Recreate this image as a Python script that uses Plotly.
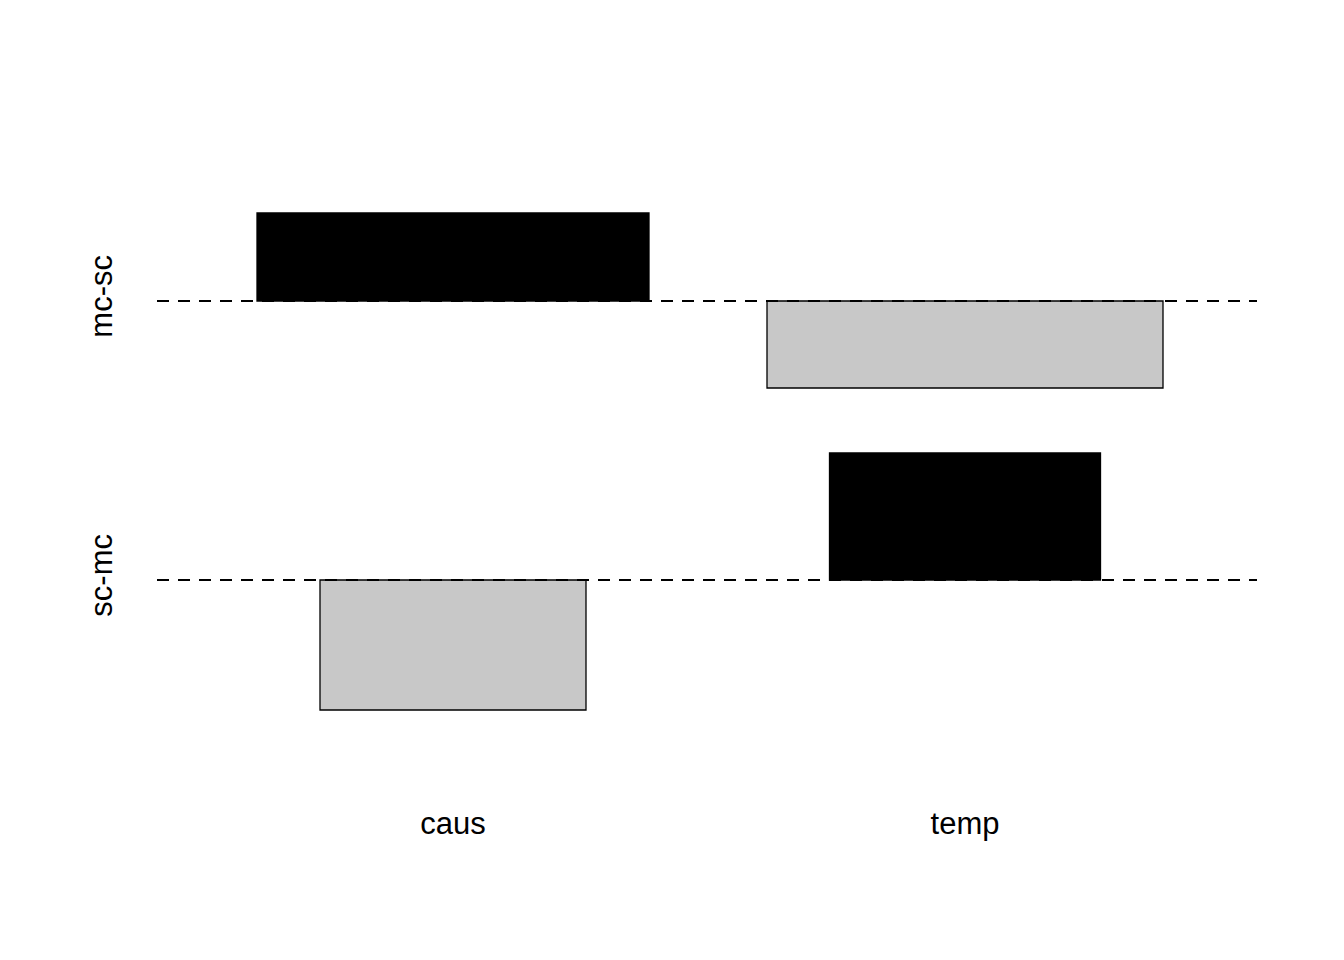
import plotly.graph_objects as go

# Association plot data
col_labels = ["caus", "temp"]
row_labels = ["mc-sc", "sc-mc"]
# residual heights (signed) per row, per column
heights_mcsc = [88, -87]
heights_scmc = [-130, 127]
# widths (proportional to sqrt of expected counts)
widths_mcsc = [392, 396]
widths_scmc = [266, 271]

heights = [heights_mcsc, heights_scmc]
widths = [widths_mcsc, widths_scmc]

# layout computation (assocplot-style)
x_start = 257
x_gap = 118
col_w = [max(widths_mcsc[j], widths_scmc[j]) for j in range(2)]
centers = []
pos = x_start
for w in col_w:
    centers.append(pos + w / 2)
    pos += w + x_gap

y_gap = 65
# bottom row (sc-mc) baseline at 0; upper row above
base_scmc = 0
base_mcsc = base_scmc + max(max(h, 0) for h in heights_scmc) + y_gap + max(max(-h, 0) for h in heights_mcsc)
bases = [base_mcsc, base_scmc]

fig = go.Figure()
for i in range(2):
    for j in range(2):
        h = heights[i][j]
        fig.add_trace(go.Bar(
            x=[centers[j]], y=[h], base=[bases[i]], width=[widths[i][j]],
            marker=dict(color="black" if h > 0 else "#C8C8C8",
                        line=dict(color="black", width=1.3)),
            showlegend=False, hoverinfo="skip"))

for b in bases:
    fig.add_shape(type="line", xref="paper", x0=0, x1=1, yref="y", y0=b, y1=b,
                  line=dict(color="black", width=2, dash="12px,9px"), layer="above")

fig.update_layout(
    width=1344, height=960,
    margin=dict(l=157, r=87, t=100, b=160),
    paper_bgcolor="white", plot_bgcolor="white",
    font=dict(family="Liberation Sans, Arial, sans-serif", size=31, color="black"),
    barmode="overlay",
    xaxis=dict(range=[157, 1257], tickvals=centers, ticktext=col_labels,
               showgrid=False, zeroline=False, showline=False, ticks="",
               ticklabelstandoff=2),
    yaxis=dict(range=[-220, 480], tickvals=bases, ticktext=row_labels,
               tickangle=-90, showgrid=False, zeroline=False, showline=False,
               ticks="", ticklabelstandoff=38),
)

fig.write_html("out.html")
